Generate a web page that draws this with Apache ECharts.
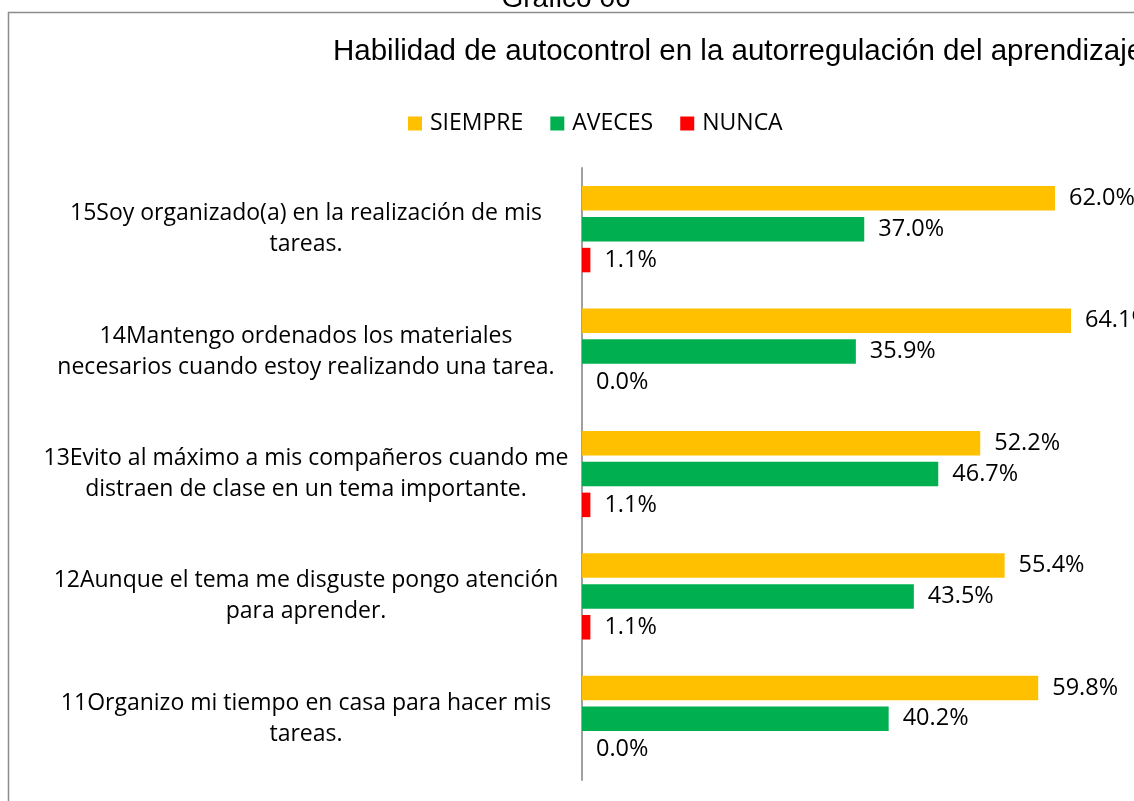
<!DOCTYPE html>
<html>
<head>
<meta charset="utf-8">
<title>Gráfico 06</title>
<script src="https://cdn.jsdelivr.net/npm/echarts@6/dist/echarts.min.js"></script>
<style>
  html, body { margin: 0; padding: 0; background: #fff; }
  #chart { width: 1134px; height: 801px; }
</style>
</head>
<body>
<div id="chart"></div>
<script>
// Items, top to bottom (axis is inverted)
const categories = [
    '15Soy organizado(a) en la realización de mis\ntareas.',
    '14Mantengo ordenados los materiales\nnecesarios cuando estoy realizando una tarea.',
    '13Evito al máximo a mis compañeros cuando me\ndistraen de clase en un tema importante.',
    '12Aunque el tema me disguste pongo atención\npara aprender.',
    '11Organizo mi tiempo en casa para hacer mis\ntareas.'
];
const siempre = [62.0, 64.1, 52.2, 55.4, 59.8];
const aveces = [37.0, 35.9, 46.7, 43.5, 40.2];
const nunca = [1.1, 0.0, 1.1, 1.1, 0.0];

const chart = echarts.init(document.getElementById('chart'));

const labelStyle = {
    show: true,
    position: 'right',
    distance: 14,
    fontFamily: 'Open Sans',
    fontSize: 23.5,
    color: '#000',
    formatter: (p) => p.value.toFixed(1) + '%'
};

function makeSeries(name, data, color) {
    return {
        name: name,
        type: 'bar',
        data: data,
        barWidth: 24.5,
        barGap: '26%',
        itemStyle: { color: color },
        label: labelStyle
    };
}

chart.setOption({
    animation: false,
    graphic: [
        {
            type: 'rect',
            shape: { x: 8.5, y: 12.5, width: 1300, height: 900 },
            style: { fill: 'none', stroke: '#8c8c8c', lineWidth: 1.5 }
        },
        {
            type: 'text',
            x: 566, y: -15,
            style: {
                text: 'Gráfico 06',
                font: '28px "Liberation Sans"',
                fill: '#000',
                textAlign: 'center'
            }
        },
        {
            type: 'text',
            x: 333, y: 37,
            style: {
                text: 'Habilidad de autocontrol en la autorregulación del aprendizaje',
                font: '29.5px "Liberation Sans"',
                fill: '#000'
            }
        }
    ],
    legend: {
        data: ['SIEMPRE', 'AVECES', 'NUNCA'],
        left: 408,
        top: 112,
        padding: 0,
        itemWidth: 14,
        itemHeight: 14,
        itemGap: 27,
        icon: 'rect',
        textStyle: {
            fontFamily: 'Open Sans',
            fontSize: 23,
            color: '#000',
            padding: [0, 0, 0, 3]
        }
    },
    grid: {
        left: 582,
        top: 168,
        bottom: 21,
        right: 18,
        containLabel: false,
        outerBoundsMode: 'none'
    },
    xAxis: {
        type: 'value',
        min: 0,
        max: 70,
        show: false,
        splitLine: { show: false }
    },
    yAxis: {
        type: 'category',
        inverse: true,
        data: categories,
        axisLine: { show: true, lineStyle: { color: '#a0a0a0', width: 2 } },
        axisTick: { show: false },
        axisLabel: {
            align: 'center',
            margin: 276,
            fontFamily: 'Open Sans',
            fontSize: 23,
            lineHeight: 31,
            padding: [10, 0, 0, 0],
            color: '#000'
        }
    },
    series: [
        makeSeries('SIEMPRE', siempre, '#FFC000'),
        makeSeries('AVECES', aveces, '#00B050'),
        makeSeries('NUNCA', nunca, '#FF0000')
    ]
});
</script>
</body>
</html>
